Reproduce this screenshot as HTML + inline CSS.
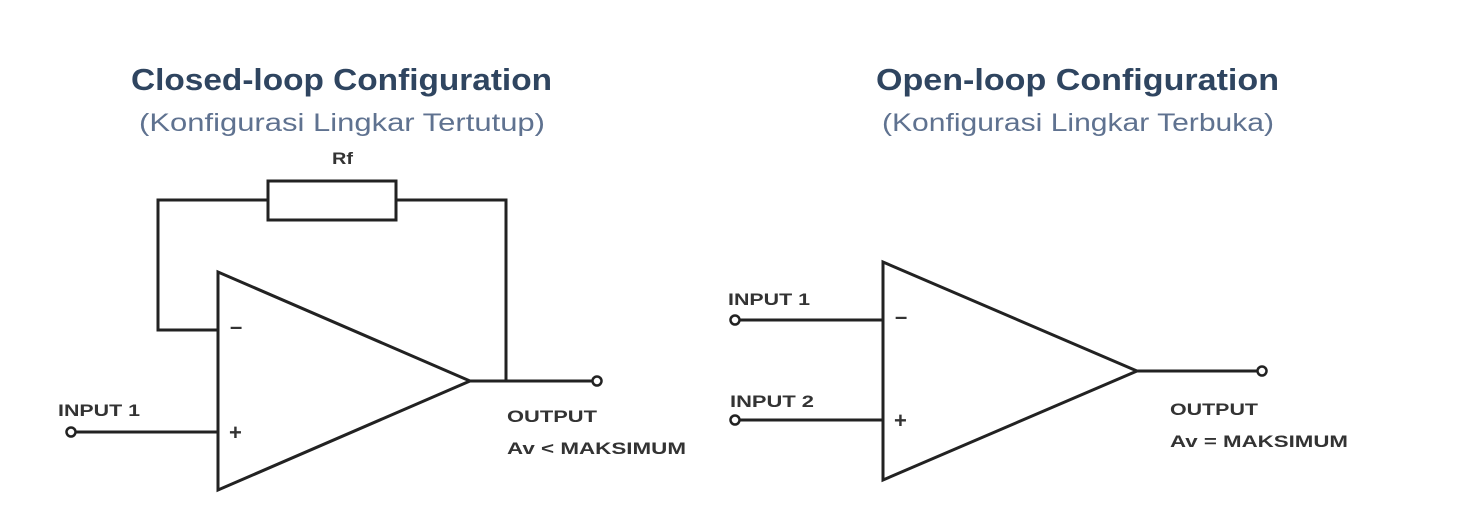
<!DOCTYPE html>
<html><head><meta charset="utf-8"><style>
html,body{margin:0;padding:0;background:#fff;}
</style></head><body>
<svg width="1457" height="524" viewBox="0 0 1457 524" xmlns="http://www.w3.org/2000/svg" font-family="Liberation Sans, sans-serif">
<rect width="1457" height="524" fill="#fff"/>
<g>
<text x="131" y="90" font-size="31" font-weight="bold" fill="#2f4560" textLength="421" lengthAdjust="spacingAndGlyphs">Closed-loop Configuration</text>
<text x="139" y="131" font-size="25" fill="#5f7290" textLength="406" lengthAdjust="spacingAndGlyphs">(Konfigurasi Lingkar Tertutup)</text>
<text x="876" y="90" font-size="31" font-weight="bold" fill="#2f4560" textLength="403" lengthAdjust="spacingAndGlyphs">Open-loop Configuration</text>
<text x="882" y="131" font-size="25" fill="#5f7290" textLength="392" lengthAdjust="spacingAndGlyphs">(Konfigurasi Lingkar Terbuka)</text>
<text x="332" y="164" font-size="17" font-weight="bold" fill="#333" textLength="21" lengthAdjust="spacingAndGlyphs">Rf</text>
</g>
<g stroke="#222" stroke-width="3" fill="none">
<rect x="268" y="181" width="128" height="39"/>
<polyline points="268,200 158,200 158,330 218,330"/>
<polyline points="396,200 506,200 506,381"/>
<polygon points="218,272 218,490 470,381"/>
<line x1="75" y1="432" x2="218" y2="432"/>
<line x1="470" y1="381" x2="593" y2="381"/>
<circle cx="71" cy="432" r="4.5" stroke-width="2.5" fill="#fff"/>
<circle cx="597" cy="381" r="4.5" stroke-width="2.5" fill="#fff"/>
<polygon points="883,262 883,480 1137,371"/>
<line x1="739" y1="320" x2="883" y2="320"/>
<line x1="739" y1="420" x2="883" y2="420"/>
<line x1="1137" y1="371" x2="1258" y2="371"/>
<circle cx="735" cy="320" r="4.5" stroke-width="2.5" fill="#fff"/>
<circle cx="735" cy="420" r="4.5" stroke-width="2.5" fill="#fff"/>
<circle cx="1262" cy="371" r="4.5" stroke-width="2.5" fill="#fff"/>
</g>
<g font-size="17" font-weight="bold" fill="#333">
<text x="230" y="334" font-size="22">–</text>
<text x="229" y="440" font-size="22">+</text>
<text x="895" y="324" font-size="22">–</text>
<text x="894" y="428" font-size="22">+</text>
<text x="58" y="416" textLength="82" lengthAdjust="spacingAndGlyphs">INPUT 1</text>
<text x="507" y="422" textLength="90" lengthAdjust="spacingAndGlyphs">OUTPUT</text>
<text x="507" y="454" textLength="179" lengthAdjust="spacingAndGlyphs">Av &lt; MAKSIMUM</text>
<text x="728" y="305" textLength="82" lengthAdjust="spacingAndGlyphs">INPUT 1</text>
<text x="730" y="407" textLength="84" lengthAdjust="spacingAndGlyphs">INPUT 2</text>
<text x="1170" y="415" textLength="88" lengthAdjust="spacingAndGlyphs">OUTPUT</text>
<text x="1170" y="447" textLength="178" lengthAdjust="spacingAndGlyphs">Av = MAKSIMUM</text>
</g>
</svg>
</body></html>
